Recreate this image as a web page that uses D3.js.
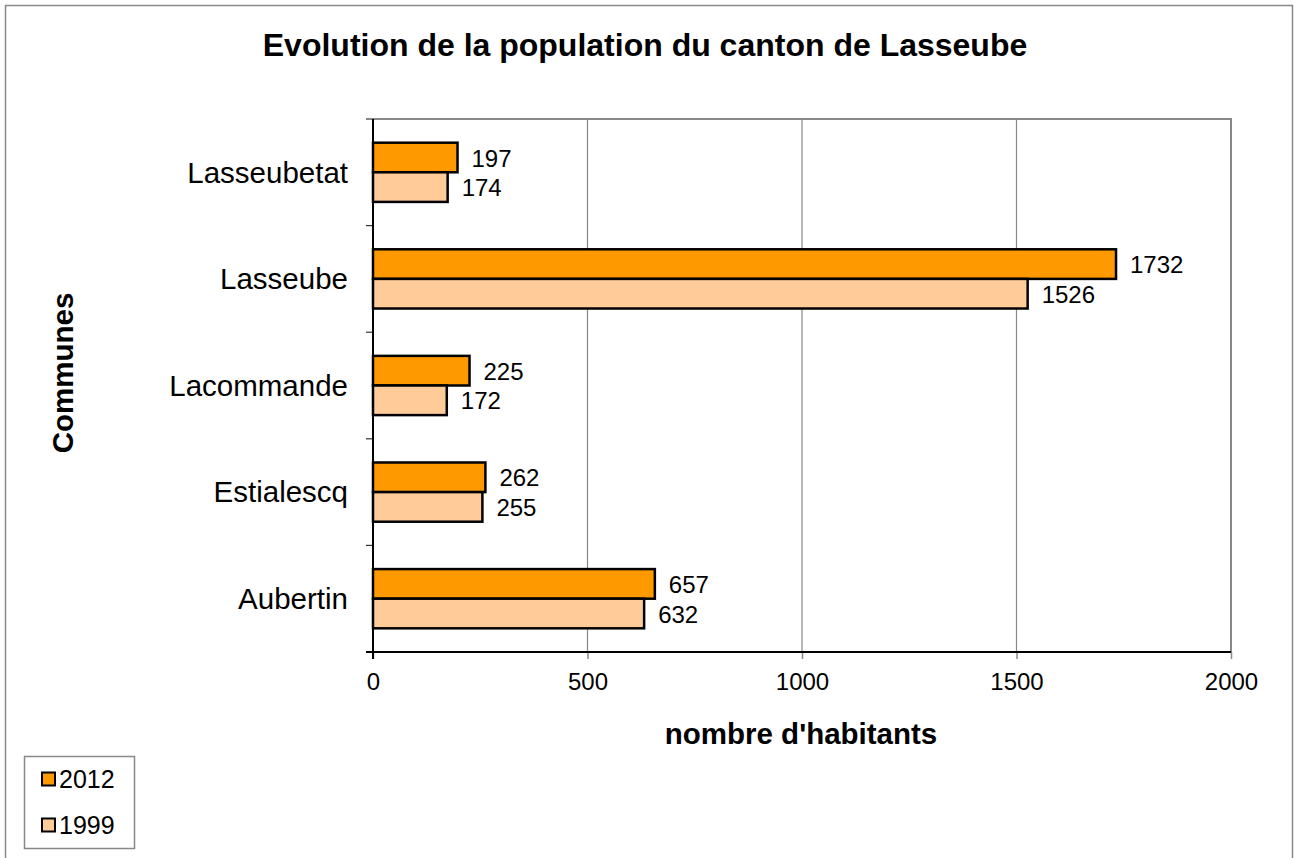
<!DOCTYPE html>
<html>
<head>
<meta charset="utf-8">
<script src="https://cdn.jsdelivr.net/npm/d3@7"></script>
<style>
  body { margin: 0; background: #fff; }
  svg { font-family: "Liberation Sans", Arial, sans-serif; display: block; }
</style>
</head>
<body>
<div class="chart"></div>
<script>
let width = 1294;
let height = 858;

// data
let communes = ['Lasseubetat', 'Lasseube', 'Lacommande', 'Estialescq', 'Aubertin'];
let years = ['2012', '1999'];
let pop2012 = [197, 1732, 225, 262, 657];
let pop1999 = [174, 1526, 172, 255, 632];
let xTicks = [0, 500, 1000, 1500, 2000];
let colors = {'2012': '#ff9900', '1999': '#ffcc99'};

let plotLeft = 373, plotRight = 1231, plotTop = 119, plotBottom = 652;

let svg = d3.select('.chart')
            .append('svg')
            .attr('width', width)
            .attr('height', height);

// outer frame
svg.append('rect')
   .attr('x', 5.5).attr('y', 5.5)
   .attr('width', 1287).attr('height', 900)
   .attr('fill', '#fff')
   .attr('stroke', '#888')
   .attr('stroke-width', 1.5);

svg.append('text')
   .attr('x', 645)
   .attr('y', 56)
   .attr('text-anchor', 'middle')
   .style('font-size', '32px')
   .style('font-weight', 'bold')
   .text('Evolution de la population du canton de Lasseube');

let xScale = d3.scaleLinear()
               .domain([0, 2000])
               .range([plotLeft, plotRight]);
let yScale = d3.scaleBand()
               .domain(communes)
               .range([plotTop, plotBottom]);
let inner = d3.scaleBand()
              .domain(years)
              .range([0, yScale.bandwidth()])
              .paddingOuter(0.8)
              .paddingInner(0);

// plot area border (top / right) and grid
svg.append('g')
   .selectAll('line')
   .data(xTicks.slice(1))
   .enter()
   .append('line')
   .attr('x1', d => xScale(d)).attr('x2', d => xScale(d))
   .attr('y1', plotTop).attr('y2', plotBottom)
   .attr('stroke', '#888')
   .attr('stroke-width', d => d == 2000 ? 2 : 1.2);
svg.append('line')
   .attr('x1', plotLeft).attr('x2', plotRight + 1)
   .attr('y1', plotTop).attr('y2', plotTop)
   .attr('stroke', '#888')
   .attr('stroke-width', 2);

let xAxis = d3.axisBottom(xScale)
              .tickValues(xTicks)
              .tickSize(7)
              .tickPadding(14)
              .tickFormat(d3.format('d'));
let gx = svg.append('g')
   .attr('transform', 'translate(0,' + plotBottom + ')')
   .call(xAxis);
gx.select('.domain').remove();
gx.selectAll('line').attr('stroke', '#888').attr('stroke-width', 1.5);
gx.selectAll('text').style('font-size', '24px').attr('fill', '#000');

let gy = svg.append('g')
   .attr('transform', 'translate(' + plotLeft + ',0)')
   .call(d3.axisLeft(yScale).tickSize(0).tickPadding(25));
gy.select('.domain').remove();
gy.selectAll('text').style('font-size', '29.5px').attr('fill', '#000').attr('dy', '0.35em');

// category separators on the y axis
let bounds = communes.map(c => yScale(c)).concat([plotBottom]);
svg.append('g')
   .selectAll('line')
   .data(bounds)
   .enter()
   .append('line')
   .attr('x1', plotLeft - 7).attr('x2', plotLeft)
   .attr('y1', d => d).attr('y2', d => d)
   .attr('stroke', '#333')
   .attr('stroke-width', 1.2);

// bars
let rows = [];
communes.forEach((c, i) => {
  rows.push({commune: c, year: '2012', value: pop2012[i]});
  rows.push({commune: c, year: '1999', value: pop1999[i]});
});
svg.append('g')
   .selectAll('rect')
   .data(rows)
   .enter()
   .append('rect')
   .attr('x', xScale(0))
   .attr('y', d => yScale(d.commune) + inner(d.year))
   .attr('width', d => xScale(d.value) - xScale(0))
   .attr('height', inner.bandwidth())
   .attr('fill', d => colors[d.year])
   .attr('stroke', '#000')
   .attr('stroke-width', 2.5);

svg.append('g')
   .selectAll('text')
   .data(rows)
   .enter()
   .append('text')
   .attr('x', d => xScale(d.value) + 14)
   .attr('y', d => yScale(d.commune) + inner(d.year) + inner.bandwidth() / 2)
   .attr('dy', '0.38em')
   .style('font-size', '24px')
   .text(d => d.value);

// axis lines
svg.append('line')
   .attr('x1', plotLeft).attr('x2', plotLeft)
   .attr('y1', plotTop).attr('y2', plotBottom + 7)
   .attr('stroke', '#000').attr('stroke-width', 2);
svg.append('line')
   .attr('x1', plotLeft - 7).attr('x2', plotRight)
   .attr('y1', plotBottom).attr('y2', plotBottom)
   .attr('stroke', '#000').attr('stroke-width', 2);

// axis titles
svg.append('text')
   .attr('x', 801)
   .attr('y', 744)
   .attr('text-anchor', 'middle')
   .style('font-size', '29.5px')
   .style('font-weight', 'bold')
   .text("nombre d'habitants");
svg.append('text')
   .attr('transform', 'rotate(-90)')
   .attr('x', -373)
   .attr('y', 73)
   .attr('text-anchor', 'middle')
   .style('font-size', '29.5px')
   .style('font-weight', 'bold')
   .text('Communes');

// legend
let legend = svg.append('g');
legend.append('rect')
      .attr('x', 24.5).attr('y', 756.5)
      .attr('width', 110).attr('height', 92)
      .attr('fill', '#fff')
      .attr('stroke', '#888')
      .attr('stroke-width', 1.5);
let item = legend.selectAll('.legend-label')
      .data(years)
      .enter()
      .append('g')
      .attr('class', 'legend-label')
      .attr('transform', (d, i) => 'translate(0,' + (772 + i * 46) + ')');
item.append('rect')
    .attr('x', 42).attr('y', 0.5)
    .attr('width', 13).attr('height', 13)
    .attr('fill', d => colors[d])
    .attr('stroke', '#000')
    .attr('stroke-width', 2);
item.append('text')
    .attr('x', 59)
    .attr('y', 15.5)
    .style('font-size', '25px')
    .text(d => d);
</script>
</body>
</html>
